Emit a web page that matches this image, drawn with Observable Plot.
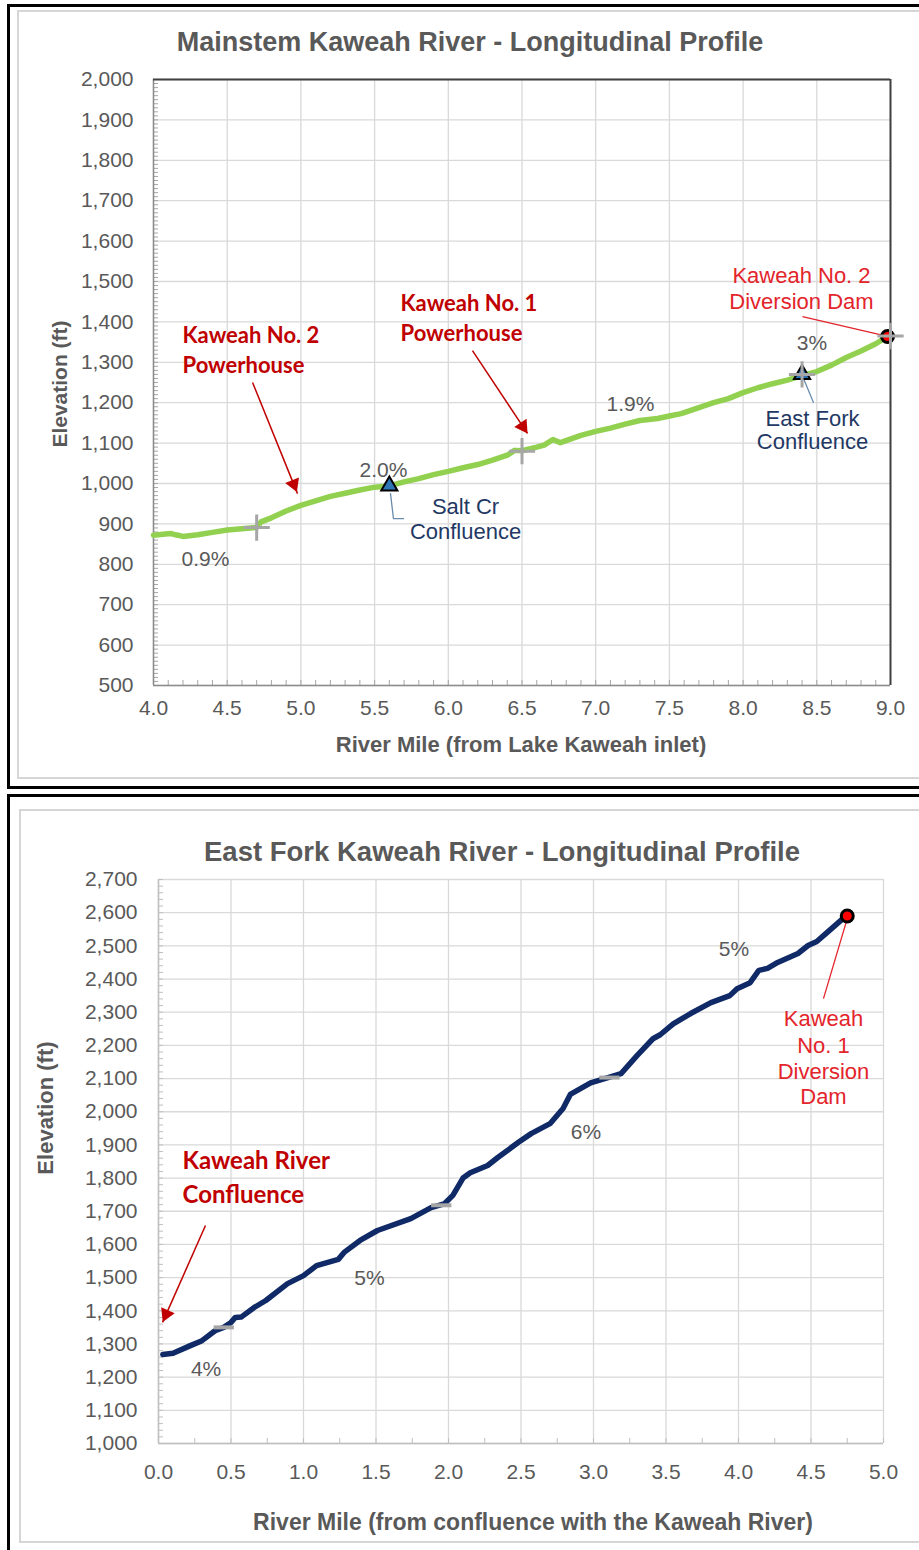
<!DOCTYPE html>
<html><head><meta charset="utf-8">
<script src="https://cdn.jsdelivr.net/npm/d3@7"></script>
<script src="https://cdn.jsdelivr.net/npm/@observablehq/plot@0.6"></script>
<style>
body{margin:0;background:#fff;}
#page{position:relative;width:919px;height:1550px;overflow:hidden;font-family:"Liberation Sans",Arial,sans-serif;}
.outer{position:absolute;border:3px solid #000;box-sizing:border-box;}
.inner{position:absolute;border:2px solid #d6d6d6;box-sizing:border-box;}
.title{position:absolute;left:0;width:940px;text-align:center;font-weight:bold;color:#595959;font-size:27px;line-height:30px;height:30px;white-space:nowrap;}
.xt{position:absolute;text-align:center;font-weight:bold;color:#595959;font-size:22px;line-height:30px;height:30px;width:700px;white-space:nowrap;}
.yt{position:absolute;text-align:center;font-weight:bold;color:#595959;font-size:21px;line-height:30px;height:30px;width:200px;transform:rotate(-90deg);white-space:nowrap;}
.chart{position:absolute;left:0;}
</style></head><body><div id="page">
<div class="outer" style="left:7px;top:4px;width:960px;height:785px;"></div>
<div class="inner" style="left:17px;top:10px;width:960px;height:769px;"></div>
<div class="outer" style="left:7px;top:794px;width:960px;height:800px;"></div>
<div class="inner" style="left:19px;top:809px;width:960px;height:734px;"></div>
<div class="title" style="top:27px;">Mainstem Kaweah River - Longitudinal Profile</div>
<div class="title" style="top:837px;left:32px;font-size:27.5px;">East Fork Kaweah River - Longitudinal Profile</div>
<div id="c1" class="chart" style="top:0px;"></div>
<div id="c2" class="chart" style="top:790px;"></div>
<div class="xt" style="left:171px;top:730px;">River Mile (from Lake Kaweah inlet)</div>
<div class="xt" style="left:183px;top:1507px;font-size:23px;">River Mile (from confluence with the Kaweah River)</div>
<div class="yt" style="left:-40px;top:369px;">Elevation (ft)</div>
<div class="yt" style="left:-54px;top:1093px;font-size:22px;">Elevation (ft)</div>
</div>
<script>
// ---------- Mainstem Kaweah River ----------
const mainMile = [4.0,4.08,4.12,4.15,4.2,4.3,4.4,4.5,4.6,4.7,4.73,4.8,4.9,5.0,5.1,5.2,5.3,5.4,5.5,5.6,5.7,5.8,5.9,6.0,6.1,6.2,6.3,6.4,6.45,6.5,6.6,6.65,6.71,6.76,6.9,7.0,7.1,7.2,7.3,7.42,7.5,7.58,7.7,7.8,7.9,8.0,8.1,8.2,8.3,8.4,8.5,8.6,8.7,8.8,8.9,8.98];
const mainElev = [872,875,876,873,869,873,879,885,888,891,905,915,932,946,957,968,976,984,991,994,1004,1012,1022,1030,1039,1047,1058,1070,1082,1081,1090,1095,1109,1101,1119,1129,1137,1147,1156,1161,1167,1173,1188,1200,1210,1225,1237,1247,1256,1267,1277,1293,1312,1328,1346,1364];
const mainXTicks = [4.0,4.5,5.0,5.5,6.0,6.5,7.0,7.5,8.0,8.5,9.0];
const mainYTicks = [500,600,700,800,900,1000,1100,1200,1300,1400,1500,1600,1700,1800,1900,2000];
const mainCrossMile = [4.7,6.5,8.4,9.0];
const mainCrossElev = [891,1080,1270,1365];
const mainTriMile = [5.6,8.4];
const mainTriElev = [994,1270];
const mainDamMile = [8.98];
const mainDamElev = [1364];
const mainSlopeText = ["0.9%","2.0%","1.9%","3%"];
const mainSlopeMile = [4.353,5.56,7.236,8.467];
const mainSlopeElev = [813,1033,1196,1347];
const mainRedBoldText = ["Kaweah No. 2","Powerhouse","Kaweah No. 1","Powerhouse"];
const mainRedBoldMile = [4.197,4.197,5.676,5.676];
const mainRedBoldElev = [1364,1290,1445,1371];
const mainBlueText = ["Salt Cr","Confluence","East Fork","Confluence"];
const mainBlueMile = [6.117,6.117,8.471,8.471];
const mainBlueElev = [942,880,1160,1103];
const mainRedText = ["Kaweah No. 2","Diversion Dam"];
const mainRedMile = [8.396,8.396];
const mainRedElev = [1514,1450];
const mainArrows = [{x1:4.672,y1:1250,x2:4.977,y2:975,rotate:158},{x1:6.164,y1:1329,x2:6.537,y2:1124,rotate:146}];
const mainSaltLeader = [{x:5.608,y:975},{x:5.628,y:913},{x:5.696,y:913}];
const mainEastLeader = [{x1:8.41,y1:1260,x2:8.478,y2:1200}];
const mainDamLeader = [{x1:8.403,y1:1413,x2:8.98,y2:1364}];

// ---------- East Fork Kaweah River ----------
const efMile = [0.03,0.1,0.22,0.3,0.39,0.45,0.5,0.53,0.57,0.66,0.74,0.89,1.0,1.09,1.24,1.28,1.39,1.51,1.74,1.88,1.97,2.03,2.1,2.15,2.27,2.34,2.48,2.57,2.7,2.79,2.84,2.98,3.1,3.19,3.3,3.41,3.46,3.55,3.67,3.81,3.94,3.99,4.08,4.14,4.2,4.27,4.41,4.48,4.54,4.61,4.72,4.75];
const efElev = [1268,1272,1295,1310,1340,1350,1365,1380,1381,1410,1431,1482,1506,1536,1555,1576,1612,1642,1678,1711,1722,1748,1800,1816,1838,1862,1907,1934,1964,2010,2052,2087,2103,2115,2169,2220,2232,2265,2296,2329,2350,2371,2389,2426,2432,2450,2477,2501,2513,2540,2582,2590];
const efXTicks = [0,0.5,1,1.5,2,2.5,3,3.5,4,4.5,5];
const efYTicks = [1000,1100,1200,1300,1400,1500,1600,1700,1800,1900,2000,2100,2200,2300,2400,2500,2600,2700];
const efDashMile = [0.45,1.95,3.11];
const efDashElev = [1350,1718,2103];
const efDamMile = [4.75];
const efDamElev = [2590];
const efSlopeText = ["4%","5%","6%","5%"];
const efSlopeMile = [0.328,1.455,2.948,3.969];
const efSlopeElev = [1225,1499,1939,2491];
const efRedBoldText = ["Kaweah River","Confluence"];
const efRedBoldMile = [0.166,0.166];
const efRedBoldElev = [1851,1749];
const efRedText = ["Kaweah","No. 1","Diversion","Dam"];
const efRedMile = [4.586,4.586,4.586,4.586];
const efRedElev = [2280,2199,2120,2045];
const efArrows = [{x1:0.324,y1:1657,x2:0.028,y2:1365,rotate:204}];
const efDamLeader = [{x1:4.586,y1:2341,x2:4.752,y2:2585}];

const zipXY = (xs, ys) => xs.map((x, i) => ({x, y: ys[i]}));
const zipText = (ts, xs, ys) => ts.map((t, i) => ({t, x: xs[i], y: ys[i]}));
const headPts = arr => arr.map(a => ({x: a.x2 - (a.x2 - a.x1) * 0.085, y: a.y2 - (a.y2 - a.y1) * 0.085, rotate: a.rotate}));

const FONT = "Liberation Sans, Arial, sans-serif";
const BOLDRED = "#c00000", RED = "#e3242b", NAVY = "#1f3864", GRAY = "#595959";

const plot1 = Plot.plot({
  width: 919, height: 790,
  marginLeft: 153, marginRight: 29, marginTop: 79, marginBottom: 105,
  x: {domain: [4, 9]},
  y: {domain: [500, 2000]},
  style: {background: "transparent", fontFamily: FONT, fontSize: "21px", color: GRAY, overflow: "visible"},
  marks: [
    Plot.gridX(mainXTicks, {stroke: "#d9d9d9", strokeOpacity: 1, strokeWidth: 1.3}),
    Plot.gridY(mainYTicks, {stroke: "#d9d9d9", strokeOpacity: 1, strokeWidth: 1.3}),
    Plot.axisY(d3.range(500, 2001, 10), {tickSize: -5, text: null, stroke: "#a6a6a6", label: null}),
    Plot.axisX(d3.range(4, 9.001, 0.1), {tickSize: -5, text: null, stroke: "#a6a6a6", label: null}),
    Plot.axisY(mainYTicks, {tickSize: 0, tickPadding: 20, tickFormat: d3.format(","), label: null, fontSize: 21}),
    Plot.axisX(mainXTicks, {tickSize: 0, tickPadding: 15, tickFormat: d3.format(".1f"), label: null, fontSize: 21}),
    Plot.ruleX([4], {stroke: "#8c8c8c", strokeWidth: 1.5}),
    Plot.ruleY([500], {stroke: "#8c8c8c", strokeWidth: 1.5}),
    Plot.ruleY([2000], {stroke: "#404040", strokeWidth: 2}),
    Plot.ruleX([9], {stroke: "#404040", strokeWidth: 2}),
    Plot.line(zipXY(mainMile, mainElev), {x: "x", y: "y", stroke: "#92d050", strokeWidth: 5.5, strokeLinejoin: "round", strokeLinecap: "round"}),
    Plot.line(mainSaltLeader, {x: "x", y: "y", stroke: "#6a8caf", strokeWidth: 1.3}),
    Plot.link(mainEastLeader, {x1: "x1", y1: "y1", x2: "x2", y2: "y2", stroke: "#6a8caf", strokeWidth: 1.3}),
    Plot.link(mainDamLeader, {x1: "x1", y1: "y1", x2: "x2", y2: "y2", stroke: RED, strokeWidth: 1.3}),
    Plot.link(mainArrows, {x1: "x1", y1: "y1", x2: "x2", y2: "y2", stroke: BOLDRED, strokeWidth: 1.5}),
    Plot.dot(headPts(mainArrows), {x: "x", y: "y", rotate: "rotate", symbol: "triangle", r: 5.5, fill: BOLDRED}),
    Plot.dot(zipXY(mainTriMile, mainTriElev), {x: "x", y: "y", symbol: "triangle", r: 6, fill: "#2e75b6", stroke: "#000", strokeWidth: 2}),
    Plot.dot(zipXY(mainDamMile, mainDamElev), {x: "x", y: "y", r: 6, fill: "#ff0000", stroke: "#000", strokeWidth: 3}),
    Plot.dot(zipXY(mainCrossMile, mainCrossElev), {x: "x", y: "y", symbol: "plus", r: 8.5, stroke: "#a6a6a6", strokeWidth: 3}),
    Plot.text(zipText(mainSlopeText, mainSlopeMile, mainSlopeElev), {x: "x", y: "y", text: "t", fill: GRAY, fontSize: 21, fontFamily: FONT}),
    Plot.text(zipText(mainRedBoldText, mainRedBoldMile, mainRedBoldElev), {x: "x", y: "y", text: "t", fill: BOLDRED, fontSize: 22, fontWeight: "bold", fontFamily: "Lato, sans-serif", textAnchor: "start"}),
    Plot.text(zipText(mainBlueText, mainBlueMile, mainBlueElev), {x: "x", y: "y", text: "t", fill: NAVY, fontSize: 22, fontFamily: FONT}),
    Plot.text(zipText(mainRedText, mainRedMile, mainRedElev), {x: "x", y: "y", text: "t", fill: RED, fontSize: 22, fontFamily: FONT})
  ]
});
document.getElementById("c1").append(plot1);

const plot2 = Plot.plot({
  width: 919, height: 760,
  marginLeft: 158, marginRight: 36, marginTop: 89, marginBottom: 107,
  x: {domain: [0, 5]},
  y: {domain: [1000, 2700]},
  style: {background: "transparent", fontFamily: FONT, fontSize: "21px", color: GRAY, overflow: "visible"},
  marks: [
    Plot.gridX(efXTicks, {stroke: "#d9d9d9", strokeOpacity: 1, strokeWidth: 1.3}),
    Plot.gridY(efYTicks, {stroke: "#d9d9d9", strokeOpacity: 1, strokeWidth: 1.3}),
    Plot.axisY(d3.range(1000, 2701, 20), {tickSize: -5, text: null, stroke: "#bfbfbf", label: null}),
    Plot.axisX(d3.range(0, 5.001, 0.25), {tickSize: -5, text: null, stroke: "#bfbfbf", label: null}),
    Plot.axisY(efYTicks, {tickSize: 0, tickPadding: 21, tickFormat: d3.format(","), label: null, fontSize: 21}),
    Plot.axisX(efXTicks, {tickSize: 0, tickPadding: 21, tickFormat: d3.format(".1f"), label: null, fontSize: 21}),
    Plot.ruleX([0], {stroke: "#bfbfbf", strokeWidth: 1.5}),
    Plot.ruleY([1000], {stroke: "#bfbfbf", strokeWidth: 1.5}),
    Plot.line(zipXY(efMile, efElev), {x: "x", y: "y", stroke: "#0f2a66", strokeWidth: 5.5, strokeLinejoin: "round", strokeLinecap: "round"}),
    Plot.link(zipXY(efDashMile, efDashElev), {x1: d => d.x - 0.07, x2: d => d.x + 0.07, y1: "y", y2: "y", stroke: "#a6a6a6", strokeWidth: 4}),
    Plot.link(efDamLeader, {x1: "x1", y1: "y1", x2: "x2", y2: "y2", stroke: RED, strokeWidth: 1.3}),
    Plot.dot(zipXY(efDamMile, efDamElev), {x: "x", y: "y", r: 6, fill: "#ff0000", stroke: "#000", strokeWidth: 3}),
    Plot.link(efArrows, {x1: "x1", y1: "y1", x2: "x2", y2: "y2", stroke: BOLDRED, strokeWidth: 1.5}),
    Plot.dot(headPts(efArrows), {x: "x", y: "y", rotate: "rotate", symbol: "triangle", r: 5.5, fill: BOLDRED}),
    Plot.text(zipText(efSlopeText, efSlopeMile, efSlopeElev), {x: "x", y: "y", text: "t", fill: GRAY, fontSize: 21, fontFamily: FONT}),
    Plot.text(zipText(efRedBoldText, efRedBoldMile, efRedBoldElev), {x: "x", y: "y", text: "t", fill: BOLDRED, fontSize: 24, fontWeight: "bold", fontFamily: "Lato, sans-serif", textAnchor: "start"}),
    Plot.text(zipText(efRedText, efRedMile, efRedElev), {x: "x", y: "y", text: "t", fill: RED, fontSize: 22, fontFamily: FONT})
  ]
});
document.getElementById("c2").append(plot2);
</script>
</body></html>
